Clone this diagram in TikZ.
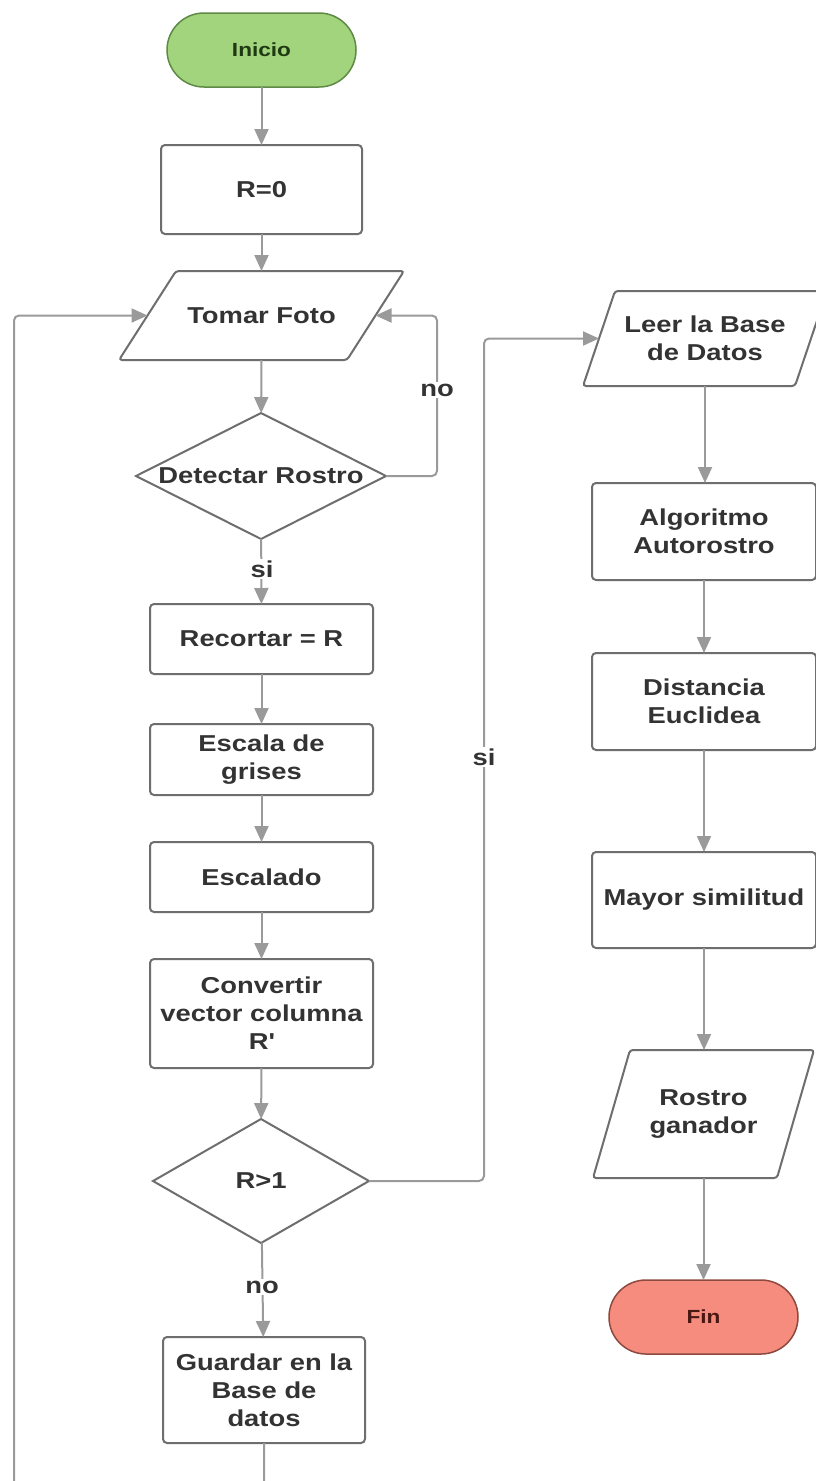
\documentclass[tikz,border=0pt]{standalone}
\usepackage{fontspec}
\setmainfont{Liberation Sans}[FakeStretch=1.19]
\usetikzlibrary{shapes.geometric,arrows.meta}
\definecolor{ln}{HTML}{9A9A9A}
\definecolor{bd}{HTML}{6E6E6E}
\definecolor{tx}{HTML}{333333}
\definecolor{gfill}{HTML}{A2D47E}
\definecolor{gdraw}{HTML}{5E8A45}
\definecolor{gtext}{HTML}{1F3A12}
\definecolor{rfill}{HTML}{F58C7D}
\definecolor{rdraw}{HTML}{8C4A40}
\definecolor{rtext}{HTML}{4A1812}
\tikzset{
  mainfont/.style={font=\bfseries\fontsize{23}{28}\selectfont},
  box/.style={draw=bd, line width=2pt, rounded corners=4pt, fill=white, text=tx, align=center, mainfont, inner sep=0pt, outer sep=0pt},
  term/.style={rounded corners=37pt, line width=1.5pt, minimum width=189pt, minimum height=74pt, inner sep=0pt, outer sep=0pt, font=\bfseries\fontsize{19}{23}\selectfont},
  paratext/.style={text=tx, align=center, mainfont, inner sep=0pt, outer sep=0pt},
  pshape/.style={draw=bd, line width=2pt, rounded corners=3pt},
  dec/.style={diamond, draw=bd, line width=2pt, fill=white, inner sep=0pt, outer sep=0pt},
  dectext/.style={text=tx, mainfont, inner sep=0pt},
  arr/.style={draw=ln, line width=2pt, -{Triangle[width=14pt,length=16pt]}, rounded corners=5pt},
  lbl/.style={fill=white, text=tx, mainfont, inner sep=2pt}
}
\begin{document}
\begin{tikzpicture}[x=1pt,y=-1pt]
\clip (0,0) rectangle (816,1481);
\fill[white] (0,0) rectangle (816,1481);

% left column
\node[term, draw=gdraw, fill=gfill, text=gtext] (start) at (261.5,50) {Inicio};
\node[box, minimum width=201pt, minimum height=89pt] (r0) at (261.5,189.5) {R=0};
\node[paratext, minimum width=228pt, minimum height=89pt] (foto) at (261.5,315.5) {Tomar Foto};
\draw[pshape] ([xshift=-28.5pt]foto.south west) -- ([xshift=28.5pt]foto.north west) -- ([xshift=28.5pt]foto.north east) -- ([xshift=-28.5pt]foto.south east) -- cycle;
\node[dec, minimum width=250pt, minimum height=126pt] (det) at (261,476) {};
\node[dectext] (dett) at (det) {Detectar Rostro};
\node[box, minimum width=223pt, minimum height=70pt] (rec) at (261.5,639) {Recortar = R};
\node[box, minimum width=223pt, minimum height=71pt] (esc) at (261.5,759.5) {Escala de\\grises};
\node[box, minimum width=223pt, minimum height=70pt] (escdo) at (261.5,877) {Escalado};
\node[box, minimum width=223pt, minimum height=109pt] (conv) at (261.5,1013.5) {Convertir\\vector columna\\R\textquotesingle};
\node[dec, minimum width=216pt, minimum height=124pt] (r1) at (261,1181) {};
\node[dectext] (r1t) at (r1) {R>1};
\node[box, minimum width=202pt, minimum height=106pt] (guard) at (264,1390) {Guardar en la\\Base de\\datos};

% right column
\node[paratext, minimum width=212pt, minimum height=95pt] (leer) at (705,338.5) {Leer la Base\\de Datos};
\draw[pshape] ([xshift=-16pt]leer.south west) -- ([xshift=16pt]leer.north west) -- ([xshift=16pt]leer.north east) -- ([xshift=-16pt]leer.south east) -- cycle;
\node[box, minimum width=224pt, minimum height=97pt] (alg) at (704,531.5) {Algoritmo\\Autorostro};
\node[box, minimum width=224pt, minimum height=97pt] (dist) at (704,701.5) {Distancia\\Euclidea};
\node[box, minimum width=224pt, minimum height=96pt] (mayor) at (704,900) {Mayor similitud};
\node[paratext, minimum width=184pt, minimum height=128pt] (rost) at (703.5,1114) {Rostro\\ganador};
\draw[pshape] ([xshift=-18.5pt]rost.south west) -- ([xshift=18.5pt]rost.north west) -- ([xshift=18.5pt]rost.north east) -- ([xshift=-18.5pt]rost.south east) -- cycle;
\node[term, draw=rdraw, fill=rfill, text=rtext] (fin) at (703.5,1317) {Fin};

% helper coordinates
\coordinate (noX) at (437,390);
\coordinate (siX) at (484,757);
\coordinate (lowR) at (264,1500);
\coordinate (lowL) at (14,1500);

% connectors
\draw[arr] (start) -- (r0);
\draw[arr] (r0) -- (foto);
\draw[arr] (foto) -- (det);
\draw[arr] (det.east) -| (noX) |- (foto.east);
\draw[arr] (det) -- (rec);
\draw[arr] (rec) -- (esc);
\draw[arr] (esc) -- (escdo);
\draw[arr] (escdo) -- (conv);
\draw[arr] (conv) -- (r1);
\draw[arr] (r1) -- (guard);
\draw[arr] (guard.south) -- (lowR) -- (lowL) |- (foto.west);
\draw[arr] (r1.east) -| (siX) |- (leer.west);
\draw[arr] (leer.south) -- (leer.south |- alg.north);
\draw[arr] (alg) -- (dist);
\draw[arr] (dist) -- (mayor);
\draw[arr] (mayor) -- (mayor.south |- rost.north);
\draw[arr] (rost) -- (fin);

% labels
\node[lbl] (lno1) at (noX) {no};
\node[lbl] (lsi1) at (262,569) {si};
\node[lbl] (lsi2) at (siX) {si};
\node[lbl] (lno2) at (262,1287) {no};
\end{tikzpicture}
\end{document}
